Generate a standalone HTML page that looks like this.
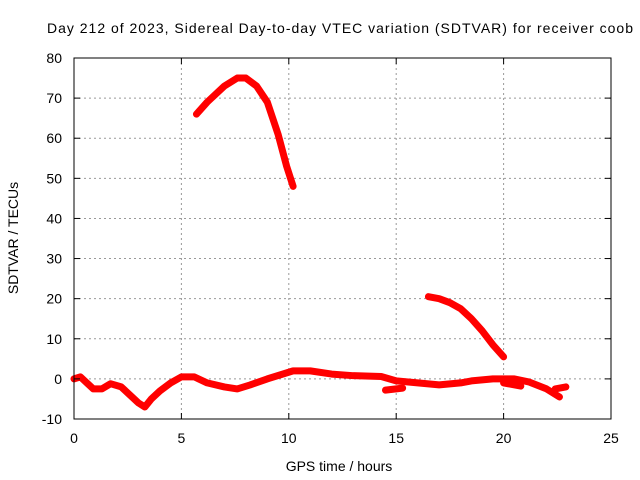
<!DOCTYPE html>
<html><head><meta charset="utf-8"><style>
body{margin:0;background:#fff}
svg{display:block;font-family:"Liberation Sans",sans-serif;font-size:14px}
</style></head><body>
<svg id="chart" width="640" height="480">
<text x="47" y="33" textLength="586" lengthAdjust="spacing" font-size="14">Day 212 of 2023, Sidereal Day-to-day VTEC variation (SDTVAR) for receiver coob</text>
<g id="grid"></g><g id="series"></g><g id="axes"></g>
<text x="339" y="471" text-anchor="middle">GPS time / hours</text>
<text transform="translate(18,238) rotate(-90)" text-anchor="middle">SDTVAR / TECUs</text>
</svg>
<script>
const xTicks=[0,5,10,15,20,25];
const yTicks=[-10,0,10,20,30,40,50,60,70,80];
const lowHours=[0,0.3,0.6,0.9,1.3,1.7,2.2,2.6,3.0,3.3,3.6,4.0,4.5,5.0,5.6,6.2,7.0,7.6,8.2,9.0,9.6,10.2,11,12,13,14.3,15,16,17,18,18.5,19.5,20.5,21.2,22,22.6];
const lowValues=[0,0.5,-1,-2.5,-2.5,-1.2,-2,-4,-6,-7,-5,-3,-1,0.5,0.5,-1,-2,-2.5,-1.5,0,1,2,2,1.2,0.8,0.6,-0.5,-1,-1.5,-1,-0.5,0,0,-0.8,-2.5,-4.5];
const fragAHours=[14.5,15.3];const fragAValues=[-2.8,-2.3];
const fragBHours=[20.0,20.8];const fragBValues=[-1,-1.8];
const fragCHours=[22.4,22.9];const fragCValues=[-2.5,-2];
const arcHours=[5.7,6.2,7,7.6,8.0,8.5,9,9.5,9.9,10.2];
const arcValues=[66,69,73,75,75,73,69,61,53,48];
const tailHours=[16.5,17,17.5,18,18.5,19,19.5,20];
const tailValues=[20.5,20,19,17.5,15,12,8.5,5.5];
const X0=74,X1=611,Y0=419,Y1=58;
const sx=h=>X0+(h-0)/(25-0)*(X1-X0);
const sy=v=>Y0-(v+10)/90*(Y0-Y1);
const NS='http://www.w3.org/2000/svg';
function mk(t,a,p){const e=document.createElementNS(NS,t);for(const k in a)e.setAttribute(k,a[k]);p.appendChild(e);return e;}
const grid=document.getElementById('grid'),axes=document.getElementById('axes'),ser=document.getElementById('series');
xTicks.forEach(t=>{const x=sx(t);
 if(t>0&&t<25){const g=mk('line',{x1:x,x2:x,y1:Y1,y2:Y0,stroke:'#999','stroke-dasharray':'2,3'},grid);
 
 }
 mk('line',{x1:x,x2:x,y1:Y0,y2:Y0-6,stroke:'#000'},axes);
 mk('line',{x1:x,x2:x,y1:Y1,y2:Y1+6,stroke:'#000'},axes);
 const l=mk('text',{x:x,y:Y0+24,'text-anchor':'middle'},axes);l.textContent=t;
 
 });
yTicks.forEach(t=>{const y=sy(t);
 if(t>-10&&t<80){const g=mk('line',{x1:X0,x2:X1,y1:y,y2:y,stroke:'#999','stroke-dasharray':'2,3'},grid);
 
 }
 mk('line',{x1:X0,x2:X0+6,y1:y,y2:y,stroke:'#000'},axes);
 mk('line',{x1:X1,x2:X1-6,y1:y,y2:y,stroke:'#000'},axes);
 const l=mk('text',{x:X0-12,y:y+5,'text-anchor':'end'},axes);l.textContent=t;
 
 });
const fr=mk('rect',{x:X0,y:Y1,width:X1-X0,height:Y0-Y1,fill:'none',stroke:'#000'},axes);


function line(hs,vs,name){const p=mk('polyline',{points:hs.map((h,i)=>sx(h)+','+sy(vs[i])).join(' '),fill:'none',stroke:'#f00','stroke-width':7,'stroke-linejoin':'round','stroke-linecap':'round'},ser);
 
 }
line(lowHours,lowValues,'series-baseline');
line(fragAHours,fragAValues,'series-fragment-a');
line(fragBHours,fragBValues,'series-fragment-b');
line(fragCHours,fragCValues,'series-fragment-c');
line(arcHours,arcValues,'series-arc');
line(tailHours,tailValues,'series-tail');
</script>
</body></html>
